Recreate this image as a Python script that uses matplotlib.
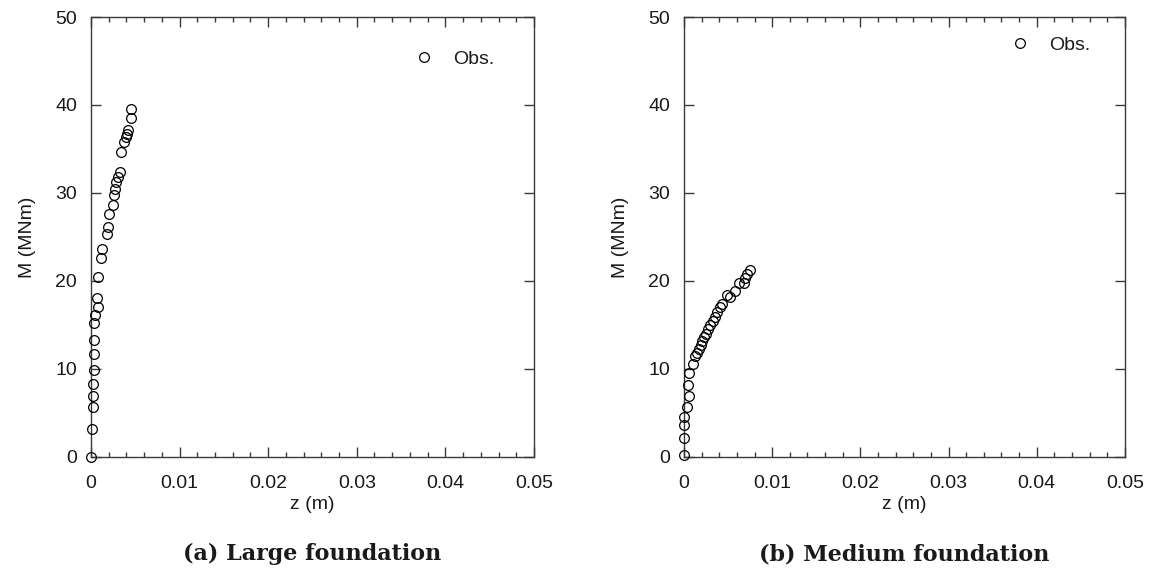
import matplotlib
matplotlib.use("Agg")
import matplotlib.pyplot as plt
from matplotlib.ticker import MultipleLocator, FixedLocator, FixedFormatter

plt.rcParams['font.family'] = ['Liberation Sans', 'DejaVu Sans']

# Observed moment-displacement response, large foundation
z_large = [0.0, 0.0001, 0.00026, 0.00026, 0.00026, 0.00034, 0.00038, 0.00038,
           0.0003, 0.00045, 0.00083, 0.00068, 0.00079, 0.00109, 0.00124,
           0.00177, 0.00192, 0.00205, 0.00244, 0.00256, 0.0027, 0.00282,
           0.003, 0.00327, 0.00338, 0.00376, 0.00395, 0.00406, 0.00414,
           0.0045, 0.0045]
M_large = [0.0, 3.2, 5.6, 6.9, 8.3, 9.85, 11.7, 13.3,
           15.2, 16.1, 17.0, 18.0, 20.45, 22.6, 23.6,
           25.3, 26.1, 27.6, 28.6, 29.8, 30.5, 31.2,
           31.8, 32.4, 34.7, 35.8, 36.4, 36.75, 37.1,
           38.5, 39.5]

# Observed moment-displacement response, medium foundation
z_medium = [0.0, 0.0, 0.0, 0.0, 0.00038, 0.00056, 0.00049, 0.00056,
            0.00105, 0.0013, 0.0015, 0.0017, 0.00188, 0.00207, 0.00226,
            0.00244, 0.00274, 0.003, 0.0033, 0.0035, 0.00376, 0.00406,
            0.00432, 0.0049, 0.00526, 0.00583, 0.0062, 0.00677, 0.00695,
            0.0072, 0.00744]
M_medium = [0.2, 2.1, 3.6, 4.5, 5.7, 6.9, 8.15, 9.5,
            10.6, 11.4, 11.75, 12.2, 12.7, 13.15, 13.6,
            14.0, 14.5, 15.0, 15.45, 15.9, 16.5, 17.0,
            17.4, 18.4, 18.2, 18.9, 19.7, 19.7, 20.3,
            20.75, 21.2]

x_ticks = [0, 0.01, 0.02, 0.03, 0.04, 0.05]
x_labels = ["0", "0.01", "0.02", "0.03", "0.04", "0.05"]
y_ticks = [0, 10, 20, 30, 40, 50]
titles = ["(a) Large foundation", "(b) Medium foundation"]

spine_col = "#3a3a3a"
text_col = "#1a1a1a"

fig = plt.figure(figsize=(11.55, 5.75), dpi=100)
ax_a = fig.add_axes([0.0788, 0.2057, 0.3835, 0.7647])
ax_b = fig.add_axes([0.5922, 0.2057, 0.3818, 0.7647])

legend_pos = [(0.81, 0.905), (0.82, 0.937)]

for ax, z, M, title, lpos in zip([ax_a, ax_b], [z_large, z_medium],
                                 [M_large, M_medium], titles, legend_pos):
    ax.plot(z, M, linestyle='none', marker='o', markersize=7.0,
            markerfacecolor='none', markeredgecolor='black',
            markeredgewidth=0.9, label='Obs.', clip_on=False, zorder=3)
    ax.set_xlim(0, 0.05)
    ax.set_ylim(0, 50)
    ax.xaxis.set_major_locator(FixedLocator(x_ticks))
    ax.xaxis.set_major_formatter(FixedFormatter(x_labels))
    ax.xaxis.set_minor_locator(MultipleLocator(0.002))
    ax.yaxis.set_major_locator(FixedLocator(y_ticks))
    ax.tick_params(which='both', direction='in', top=True, right=True,
                   color=spine_col, labelcolor=text_col, labelsize=14,
                   width=1.0)
    ax.tick_params(which='major', length=7)
    ax.tick_params(axis='x', which='major', pad=13)
    ax.tick_params(axis='y', which='major', pad=10)
    ax.tick_params(which='minor', length=3.5)
    for s in ax.spines.values():
        s.set_color(spine_col)
        s.set_linewidth(1.0)
    ax.set_xlabel("z (m)", fontsize=14, color=text_col, labelpad=3)
    ax.set_ylabel("M (MNm)", fontsize=14, color=text_col, labelpad=14)
    ax.legend(loc='center', bbox_to_anchor=lpos, frameon=False,
              fontsize=14, handletextpad=0.5, markerscale=1.0,
              labelcolor=text_col)
    ax.text(0.5, -0.222, title, transform=ax.transAxes, ha='center',
            va='center', fontsize=16, fontweight='bold',
            family=['DejaVu Serif'], color=text_col)

fig.savefig("out.png", dpi=100)
